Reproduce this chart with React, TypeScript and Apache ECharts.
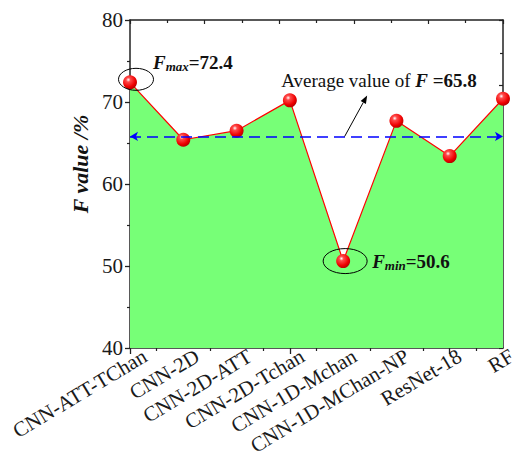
import React, { useEffect, useRef } from 'react';
import * as echarts from 'echarts';

const categories = ['CNN-ATT-TChan', 'CNN-2D', 'CNN-2D-ATT', 'CNN-2D-Tchan', 'CNN-1D-Mchan', 'CNN-1D-MChan-NP', 'ResNet-18', 'RF'];
const fValues = [72.4, 65.4, 66.5, 70.2, 50.6, 67.7, 63.4, 70.4];
const averageF = 65.8;
const yMin = 40;
const yMax = 80;
const yInterval = 10;

const SERIF = '"Liberation Serif", "Times New Roman", serif';
const AXIS_COLOR = '#222';

export default function App() {
  const ref = useRef<HTMLDivElement>(null);

  useEffect(() => {
    document.body.style.margin = '0';
    if (!ref.current) return;
    const chart = echarts.init(ref.current, undefined, { renderer: 'svg' });

    const sphere = {
      type: 'radial',
      x: 0.38,
      y: 0.32,
      r: 0.72,
      colorStops: [
        { offset: 0, color: '#ffffff' },
        { offset: 0.22, color: '#ff4a4a' },
        { offset: 0.7, color: '#ee0000' },
        { offset: 1, color: '#b00000' },
      ],
    };

    const axisLine = { show: true, onZero: false, lineStyle: { color: AXIS_COLOR, width: 1.5 } };

    chart.setOption({
      animation: false,
      backgroundColor: '#ffffff',
      grid: [
        { left: 130, right: 17, top: 20, bottom: 110, containLabel: false },
        { left: 145, right: 2, top: 20, bottom: 110, containLabel: false },
      ],
      xAxis: [
        {
          type: 'category',
          gridIndex: 0,
          position: 'bottom',
          data: categories,
          boundaryGap: false,
          axisLine,
          axisTick: { show: true, inside: false, length: 6, alignWithLabel: true, lineStyle: { color: AXIS_COLOR, width: 1.3 } },
          axisLabel: { show: false },
          splitLine: { show: false },
        },
        {
          type: 'value',
          gridIndex: 0,
          position: 'bottom',
          min: 0,
          max: categories.length - 1,
          interval: 1,
          axisLine: { show: false, onZero: false },
          axisTick: { show: false },
          minorTick: { show: true, splitNumber: 2, length: 3, lineStyle: { color: AXIS_COLOR, width: 1.2 } },
          axisLabel: { show: false },
          splitLine: { show: false },
        },
        {
          type: 'value',
          gridIndex: 0,
          position: 'top',
          min: 0,
          max: 10,
          interval: 2,
          axisLine,
          axisTick: { show: true, inside: true, length: 4, lineStyle: { color: AXIS_COLOR, width: 1.2 } },
          minorTick: { show: true, splitNumber: 2, length: 3, lineStyle: { color: AXIS_COLOR, width: 1.2 } },
          axisLabel: { show: false },
          splitLine: { show: false },
        },
        {
          type: 'category',
          gridIndex: 1,
          position: 'bottom',
          data: categories,
          boundaryGap: false,
          axisLine: { show: false, onZero: false },
          axisTick: { show: false },
          axisLabel: { interval: 0, rotate: 31, fontFamily: SERIF, fontSize: 21, color: '#1a1a1a', margin: 29 },
          splitLine: { show: false },
        },
      ],
      yAxis: [
        {
          type: 'value',
          gridIndex: 0,
          position: 'left',
          min: yMin,
          max: yMax,
          interval: yInterval,
          axisLine,
          axisTick: { show: true, inside: false, length: 5, lineStyle: { color: AXIS_COLOR, width: 1.3 } },
          minorTick: { show: true, splitNumber: 2, length: 3, lineStyle: { color: AXIS_COLOR, width: 1.2 } },
          axisLabel: { fontFamily: SERIF, fontSize: 21, color: '#1a1a1a', margin: 7 },
          splitLine: { show: false },
          name: 'F value /%',
          nameLocation: 'middle',
          nameGap: 38,
          nameRotate: 90,
          nameTextStyle: {
            fontFamily: SERIF,
            fontSize: 22,
            fontWeight: 'bold',
            fontStyle: 'italic',
            color: '#111',
            padding: [0, 0, 0, 40],
          },
        },
        {
          type: 'value',
          gridIndex: 0,
          position: 'right',
          min: 0,
          max: 10,
          interval: 2,
          axisLine,
          axisTick: { show: true, inside: true, length: 4, lineStyle: { color: AXIS_COLOR, width: 1.2 } },
          minorTick: { show: true, splitNumber: 2, length: 3, lineStyle: { color: AXIS_COLOR, width: 1.2 } },
          axisLabel: { show: false },
          splitLine: { show: false },
        },
        {
          type: 'value',
          gridIndex: 1,
          show: false,
          min: 0,
          max: 1,
        },
      ],
      series: [
        {
          type: 'line',
          xAxisIndex: 0,
          yAxisIndex: 0,
          data: fValues,
          symbol: 'circle',
          symbolSize: 14,
          showAllSymbol: true,
          itemStyle: { color: sphere as any, borderWidth: 0 },
          lineStyle: { color: '#ff0000', width: 1.2 },
          areaStyle: { color: '#77ff77', opacity: 1, origin: 'start' },
          z: 3,
          markLine: {
            silent: true,
            symbol: ['arrow', 'arrow'],
            symbolSize: [7, 8],
            label: { show: false },
            lineStyle: { color: '#0000ff', type: [11, 6], width: 1.6 },
            data: [{ yAxis: averageF }],
          },
        },
      ],
    });

    const px = (i: number, v: number) =>
      chart.convertToPixel({ xAxisIndex: 0, yAxisIndex: 0 }, [categories[i], v]) as number[];

    const maxIdx = fValues.indexOf(Math.max(...fValues));
    const minIdx = fValues.indexOf(Math.min(...fValues));
    const pMax = px(maxIdx, fValues[maxIdx]);
    const pMin = px(minIdx, fValues[minIdx]);
    const pAvg = px(minIdx, averageF);

    const baseRich = {
      f: { fontFamily: SERIF, fontSize: 19, fontWeight: 'bold', fontStyle: 'italic', fill: '#111', lineHeight: 22 },
      s: { fontFamily: SERIF, fontSize: 13, fontWeight: 'bold', fontStyle: 'italic', fill: '#111', verticalAlign: 'bottom', lineHeight: 22, padding: [10, 0, 0, 0] },
      b: { fontFamily: SERIF, fontSize: 19, fontWeight: 'bold', fill: '#111', lineHeight: 22 },
      n: { fontFamily: SERIF, fontSize: 19, fill: '#111', lineHeight: 22 },
    };

    const ax = pAvg[0] + 1.5;
    const ay = pAvg[1];
    const bx = pAvg[0] + 24;
    const by = pAvg[1] - 41;
    const dx = bx - ax;
    const dy = by - ay;
    const len = Math.sqrt(dx * dx + dy * dy);
    const ux = dx / len;
    const uy = dy / len;
    const hl = 8;
    const hw = 3;
    const baseX = bx - ux * hl;
    const baseY = by - uy * hl;

    chart.setOption({
      graphic: [
        {
          type: 'ellipse',
          shape: { cx: pMax[0] + 6, cy: pMax[1] - 3, rx: 17.5, ry: 11 },
          style: { fill: 'none', stroke: '#000', lineWidth: 1 },
          z: 10,
        },
        {
          type: 'ellipse',
          shape: { cx: pMin[0] + 2, cy: pMin[1], rx: 22, ry: 12.5 },
          style: { fill: 'none', stroke: '#000', lineWidth: 1 },
          z: 10,
        },
        {
          type: 'text',
          x: pMax[0] + 23,
          y: pMax[1] - 20,
          style: {
            text: '{f|F}{s|max}{b|=' + fValues[maxIdx].toFixed(1) + '}',
            rich: baseRich,
            verticalAlign: 'middle',
            align: 'left',
          },
          z: 10,
        },
        {
          type: 'text',
          x: pMin[0] + 29,
          y: pMin[1],
          style: {
            text: '{f|F}{s|min}{b|=' + fValues[minIdx].toFixed(1) + '}',
            rich: baseRich,
            verticalAlign: 'middle',
            align: 'left',
          },
          z: 10,
        },
        {
          type: 'text',
          x: pAvg[0] - 62,
          y: pAvg[1] - 56,
          style: {
            text: '{n|Average value of }{f|F}{b| =' + averageF.toFixed(1) + '}',
            rich: baseRich,
            verticalAlign: 'middle',
            align: 'left',
          },
          z: 10,
        },
        {
          type: 'line',
          shape: { x1: ax, y1: ay, x2: baseX, y2: baseY },
          style: { stroke: '#000', lineWidth: 1 },
          z: 10,
        },
        {
          type: 'polygon',
          shape: {
            points: [
              [bx, by],
              [baseX - uy * hw, baseY + ux * hw],
              [baseX + uy * hw, baseY - ux * hw],
            ],
          },
          style: { fill: '#000' },
          z: 10,
        },
      ],
    });

    return () => chart.dispose();
  }, []);

  return <div ref={ref} style={{ width: 520, height: 458 }} />;
}
